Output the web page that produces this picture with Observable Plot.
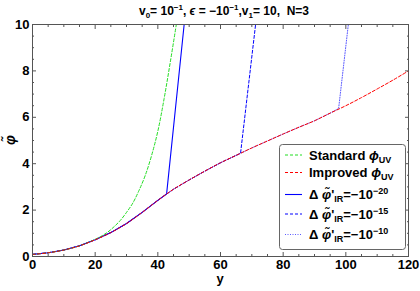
<!DOCTYPE html>
<html><head><meta charset="utf-8">
<script src="https://cdn.jsdelivr.net/npm/d3@7"></script>
<script src="https://cdn.jsdelivr.net/npm/@observablehq/plot@0.6"></script>
<style>
body{margin:0;background:#fff}
#chart{position:relative;width:420px;height:291px}
svg{font-family:"Liberation Sans",Arial,sans-serif}
</style>
</head><body><div id="chart"></div>
<script>
// Improved phi_UV (red)
const yImproved = [0,5,10,15,20,25,30,35,40,45,50,55,60,65,70,75,80,85,90,95,100,105,110,115,120];
const phiImproved = [0.09,0.16,0.28,0.46,0.72,1.03,1.42,1.90,2.42,2.90,3.30,3.68,4.04,4.36,4.68,4.98,5.28,5.57,5.85,6.18,6.50,6.85,7.22,7.60,8.00];
// Standard phi_UV (green)
const yStandard = [0,5,10,15,20,22,24,26,28,30,32,34,36,38,40,42,44,45.9];
const phiStandard = [0.09,0.16,0.28,0.46,0.74,0.88,1.05,1.28,1.55,1.90,2.30,2.85,3.50,4.35,5.40,6.80,8.40,10.0];
// Delta phi'_IR runs: departure point and where they leave the frame
const irLabels = ["−20","−15","−10"];
const kinkY = [42.8, 66.4, 97.7];
const kinkPhi = [2.70, 4.45, 6.38];
const exitY = [48.4, 71.2, 100.8];
const exitPhi = [10, 10, 10];

const xTicks = [0,20,40,60,80,100,120];
const yTicks = [0,2,4,6,8,10];

const improved = yImproved.map((y,i)=>({y, phi: phiImproved[i]}));
const standard = yStandard.map((y,i)=>({y, phi: phiStandard[i]}));
const irRuns = irLabels.map((lab,k)=>[
  ...improved.filter(d=>d.y < kinkY[k]),
  {y: kinkY[k], phi: kinkPhi[k]},
  {y: exitY[k], phi: exitPhi[k]}
]);

const xMinor = d3.range(0,121,5).filter(v=>v%20!==0);
const yMinor = d3.range(0,10.01,0.5).filter(v=>v%2!==0);
const tc = "#555";
const blank = () => "";

const plot = Plot.plot({
  width: 420, height: 291,
  marginLeft: 32, marginRight: 12, marginTop: 24, marginBottom: 35,
  style: {fontSize: "13px", fontWeight: "bold", fontFamily: "Liberation Sans, Arial, sans-serif", color: "#000", background: "#fff"},
  x: {domain: [0,120]},
  y: {domain: [0,10]},
  marks: [
    Plot.line(irRuns[2], {x: "y", y: "phi", stroke: "#5a5aff", strokeWidth: 1, strokeDasharray: "1,1.5", clip: true}),
    Plot.line(irRuns[1], {x: "y", y: "phi", stroke: "#0000ff", strokeWidth: 1, strokeDasharray: "3,2", clip: true}),
    Plot.line(irRuns[0], {x: "y", y: "phi", stroke: "#0000ff", strokeWidth: 1.1, clip: true}),
    Plot.line(standard, {x: "y", y: "phi", stroke: "#22dd22", strokeWidth: 1, strokeDasharray: "3,2", curve: "catmull-rom", clip: true}),
    Plot.line(improved, {x: "y", y: "phi", stroke: "#ff0000", strokeWidth: 1, strokeDasharray: "3,2", curve: "catmull-rom", clip: true}),
    Plot.frame({stroke: tc}),
    Plot.axisX({ticks: xTicks, tickSize: 0, tickPadding: 3, label: null}),
    Plot.axisY({ticks: yTicks, tickSize: 0, tickPadding: 3, label: null}),
    Plot.axisX({ticks: xTicks, tickSize: -4, tickFormat: blank, label: null, stroke: tc}),
    Plot.axisX({ticks: xMinor, tickSize: -2, tickFormat: blank, label: null, stroke: tc}),
    Plot.axisX({anchor: "top", ticks: xTicks, tickSize: -4, tickFormat: blank, label: null, stroke: tc}),
    Plot.axisX({anchor: "top", ticks: xMinor, tickSize: -2, tickFormat: blank, label: null, stroke: tc}),
    Plot.axisY({ticks: yTicks, tickSize: -4, tickFormat: blank, label: null, stroke: tc}),
    Plot.axisY({ticks: yMinor, tickSize: -2, tickFormat: blank, label: null, stroke: tc}),
    Plot.axisY({anchor: "right", ticks: yTicks, tickSize: -4, tickFormat: blank, label: null, stroke: tc}),
    Plot.axisY({anchor: "right", ticks: yMinor, tickSize: -2, tickFormat: blank, label: null, stroke: tc})
  ]
});
document.getElementById("chart").appendChild(plot);

const svg = d3.select(plot);
// Title
const t = svg.append("text").attr("x", 224).attr("y", 15).attr("text-anchor","middle").attr("font-size", 12).attr("font-weight","bold");
t.append("tspan").text("v");
t.append("tspan").attr("font-size", 8).attr("dy", 3).text("0");
t.append("tspan").attr("dy", -3).text("= 10");
t.append("tspan").attr("font-size", 8).attr("dy", -5).text("−1");
t.append("tspan").attr("dy", 5).text(", ");
t.append("tspan").attr("font-style","italic").text("ϵ");
t.append("tspan").text(" = −10");
t.append("tspan").attr("font-size", 8).attr("dy", -5).text("−1");
t.append("tspan").attr("dy", 5).text(",v");
t.append("tspan").attr("font-size", 8).attr("dy", 3).text("1");
t.append("tspan").attr("dy", -3).text("= 10,\u00a0\u00a0N=3");

// Axis labels
svg.append("text").attr("x", 220).attr("y", 283).attr("text-anchor","middle").attr("font-size", 13).attr("font-weight","bold").text("y");
svg.append("text").attr("transform","translate(15,140) rotate(-90)").attr("text-anchor","middle").attr("font-size", 14).attr("font-weight","bold").attr("font-style","italic").text("φ\u0303");

// Legend
const lg = svg.append("g").attr("text-anchor","start");
lg.append("rect").attr("x", 279.5).attr("y", 144.5).attr("width", 126).attr("height", 105).attr("rx", 3).attr("fill","#fff").attr("stroke","#666").attr("stroke-width",1);
const entries = [
  {color:"#22dd22", dash:"3,2", main:"Standard ", kind:"uv", w:1},
  {color:"#ff0000", dash:"3,2", main:"Improved ", kind:"uv", w:1},
  {color:"#0000ff", dash:null, kind:"ir", exp:"−20", w:1.1},
  {color:"#0000ff", dash:"3,2", kind:"ir", exp:"−15", w:1},
  {color:"#5a5aff", dash:"1,1.5", kind:"ir", exp:"−10", w:1}
];
const rowY = [155, 172.5, 194.5, 214, 234.5];
entries.forEach((e,i)=>{
  const y = rowY[i];
  const ln = lg.append("line").attr("x1",285).attr("x2",302).attr("y1",y).attr("y2",y).attr("stroke",e.color).attr("stroke-width",e.w);
  if (e.dash) ln.attr("stroke-dasharray", e.dash);
  const tx = lg.append("text").attr("x", 309).attr("y", y+4.5).attr("font-size", 13).attr("font-weight","bold").attr("text-anchor","start");
  if (e.kind === "uv") {
    tx.append("tspan").text(e.main);
    tx.append("tspan").attr("font-style","italic").text("ϕ");
    tx.append("tspan").attr("font-size", 9).attr("dy", 3).text("UV");
  } else {
    tx.append("tspan").text("Δ ");
    tx.append("tspan").attr("font-style","italic").text("φ\u0303");
    tx.append("tspan").text("'");
    tx.append("tspan").attr("font-size", 9).attr("dy", 3).text("IR");
    tx.append("tspan").attr("dy", -3).text("=−10");
    tx.append("tspan").attr("font-size", 9).attr("dy", -5).text(e.exp);
  }
});
</script>
</body></html>
